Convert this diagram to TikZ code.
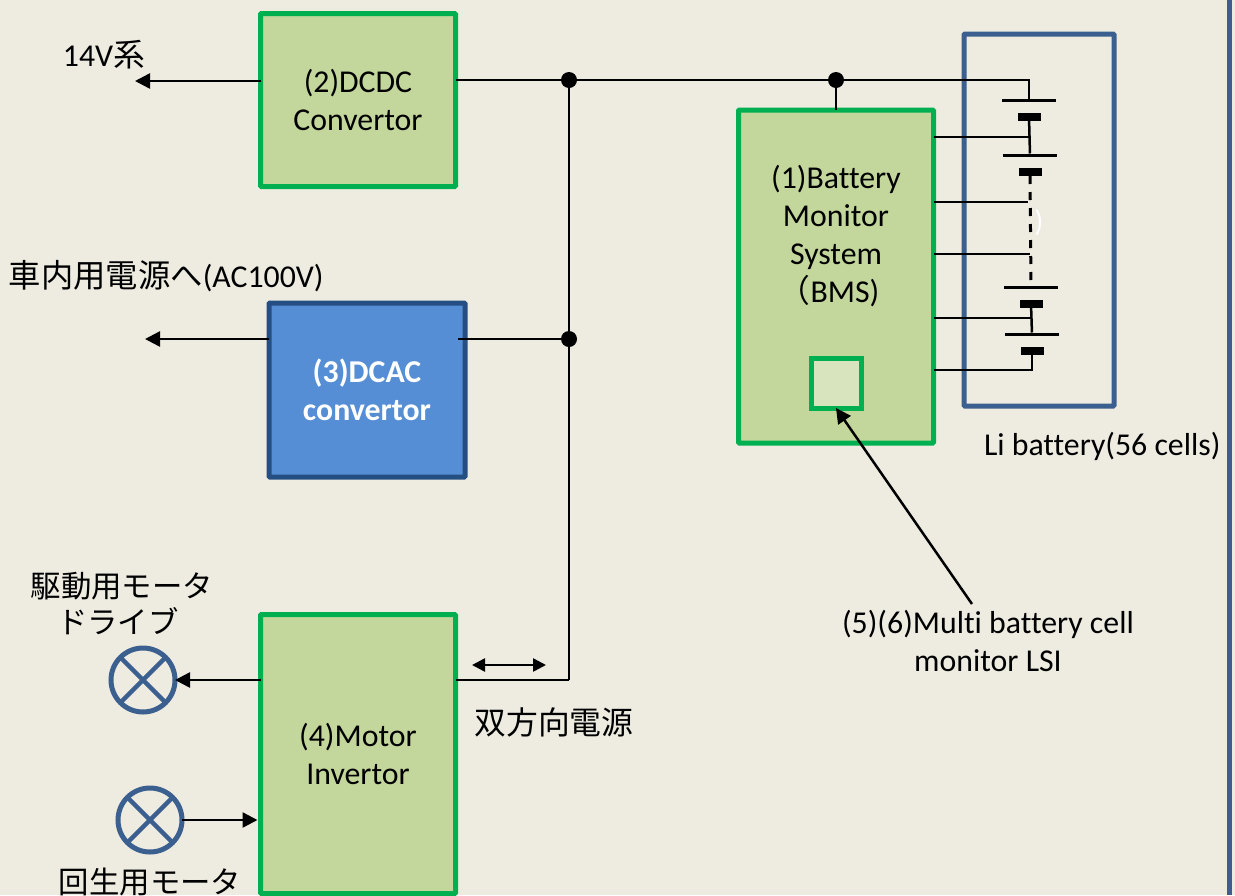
\documentclass[tikz,border=0pt]{standalone}
\usepackage{fontspec}
\setmainfont[Ligatures=NoCommon]{Carlito}
\newfontfamily\cjk{Noto Sans CJK JP}
\usetikzlibrary{positioning, calc, arrows.meta, shapes.misc}
\definecolor{paper}{HTML}{EEECE1}
\definecolor{leaf}{HTML}{C3D69B}
\definecolor{leafpale}{HTML}{D7E4BD}
\definecolor{edgegreen}{HTML}{00B050}
\definecolor{sky}{HTML}{558ED5}
\definecolor{navy}{HTML}{254F82}
\definecolor{steel}{HTML}{3B608F}

\begin{document}
\begin{tikzpicture}[x=1pt, y=-1pt,
    every node/.style={font=\fontsize{31.8}{38}\selectfont, outer sep=0pt, inner sep=0pt},
    wire/.style={draw=black, line width=2.5pt},
    feed/.style={wire, -{Triangle[length=15pt, width=15pt]}},
    greenbox/.style={draw=edgegreen, fill=leaf, line width=5pt, rounded corners=1pt, align=center},
    bluebox/.style={draw=navy, fill=sky, line width=5pt, rounded corners=1pt, align=center, text=white, font=\fontsize{31.8}{38}\selectfont\bfseries},
    longplate/.style={fill=black, minimum width=54pt, minimum height=3pt},
    shortplate/.style={fill=black, minimum width=23pt, minimum height=8pt},
    junction/.style={circle, fill=black, minimum size=16pt},
    motor/.style={cross out, draw=steel, line width=4.5pt, minimum size=46pt},
    motorring/.style={circle, draw=steel, line width=5pt, minimum size=64pt},
]
    % --- Background ---
    \fill[paper] (0,0) rectangle (1235,895);
    \useasboundingbox (0,0) rectangle (1235,895);
    \fill[steel] (1227,0) rectangle (1232,895);

    % --- Blocks ---
    \node[greenbox, minimum width=195pt, minimum height=173pt] (dcdc) at (358,100) {(2)DCDC\\Convertor};
    \node[bluebox, minimum width=196pt, minimum height=174pt] (dcac) at (367,390) {(3)DCAC\\convertor};
    \node[greenbox, minimum width=195pt, minimum height=279pt] (inverter) at (358,754) {(4)Motor\\Invertor};
    \node[greenbox, minimum width=195pt, minimum height=333pt] (bms) at (836,276.5) {};
    \node[align=center] (bmstext) at (836,236) {(1)Battery\\Monitor\\System\\{\cjk （}BMS)\hspace*{14pt}};
    \node[draw=edgegreen, fill=leafpale, line width=5pt, minimum size=50pt] (lsi) at (836,383) {};
    \node[draw=steel, line width=5pt, rounded corners=1pt, minimum width=150pt, minimum height=372pt] (pack) at (1039,220) {};

    % --- Battery cells ---
    \node[longplate] (longa) at (1029,100) {};
    \node[shortplate] (shorta) at (1029,117) {};
    \node[longplate] (longb) at (1030,155) {};
    \node[shortplate] (shortb) at (1030,172) {};
    \node[longplate] (longc) at (1031,287) {};
    \node[shortplate] (shortc) at (1031,304) {};
    \node[longplate] (longd) at (1032,334) {};
    \node[shortplate] (shortd) at (1032,351) {};
    \draw[wire] (shorta) -- (longb);
    \draw[wire] (shortc) -- (longd);
    \draw[wire, line width=3pt, dash pattern=on 8pt off 8pt] (shortb) -- (longc);
    \node[text=white, font=\fontsize{30}{34}\selectfont] (gap) at (1039,223) {)};

    % --- Bus ---
    \node[junction] (busa) at (569,80) {};
    \node[junction] (busb) at (836,80) {};
    \node[junction] (busc) at (569,339) {};
    \coordinate (busend) at (569,680);
    \draw[wire] (dcdc.east |- busa) -- (busa) -- (busb) -- (longa.center |- busb) -- (longa);
    \draw[wire] (busa) -- (busc) -- (busend);
    \draw[wire] (busb) -- (bms);
    \draw[wire] (458,339) -- (busc);
    \draw[wire] (inverter.east |- busend) -- (busend);

    % --- Cell taps ---
    \coordinate (tapa) at (1030,137);
    \coordinate (tapb) at (1028,202);
    \coordinate (tapc) at (1030,254);
    \coordinate (tapd) at (1031,318);
    \coordinate (tape) at (1032,370);
    \draw[wire] (bms.east |- tapa) -- (tapa);
    \draw[wire] (bms.east |- tapb) -- (tapb);
    \draw[wire] (bms.east |- tapc) -- (tapc);
    \draw[wire] (bms.east |- tapd) -- (tapd);
    \draw[wire] (bms.east |- tape) -- (tape) -- (shortd);

    % --- Outputs ---
    \coordinate (lowvolt) at (135,81);
    \coordinate (acout) at (145,339);
    \draw[feed] (dcdc.west |- lowvolt) -- (lowvolt);
    \draw[feed] (dcac.west |- acout) -- (acout);

    % --- Motors ---
    \node[motorring] (drive) at (143,680) {};
    \node[motorring] (regen) at (150,820) {};
    \node[motor] at (drive) {};
    \node[motor] at (regen) {};
    \draw[feed] (inverter.west |- drive) -- (drive);
    \draw[feed] (regen) -- ($(inverter.west |- regen)+(-3,0)$);

    % --- Bidirectional mark and pointer ---
    \coordinate (flowa) at (472,665);
    \coordinate (flowb) at (546,665);
    \draw[wire, {Triangle[length=13pt, width=13pt]}-{Triangle[length=13pt, width=13pt]}] (flowa) -- (flowb);
    \node[align=center] (lsitext) at (988,641) {(5)(6)Multi battery cell\\monitor LSI};
    \coordinate (pointer) at (972,604);
    \draw[feed] (pointer) -- (lsi.south);

    % --- Labels ---
    \node (lowlabel) at (104,55) {14V{\cjk 系}};
    \node[anchor=west] (aclabel) at (9,276) {{\cjk\fontsize{32.3}{38}\selectfont 車内用電源へ}(AC100V)};
    \node[anchor=west] (packlabel) at (984,446) {Li battery(56 cells)};
    \node (flowlabel) at (554,722) {\cjk\fontsize{31.8}{38}\selectfont 双方向電源};
    \node[font=\cjk\fontsize{30.4}{36}\selectfont, align=center] (drivelabel) at (122,604) {駆動用モータ\\ドライブ\hspace*{8pt}};
    \node[font=\cjk\fontsize{30.4}{36}\selectfont] (regenlabel) at (150,882) {回生用モータ};
\end{tikzpicture}
\end{document}
